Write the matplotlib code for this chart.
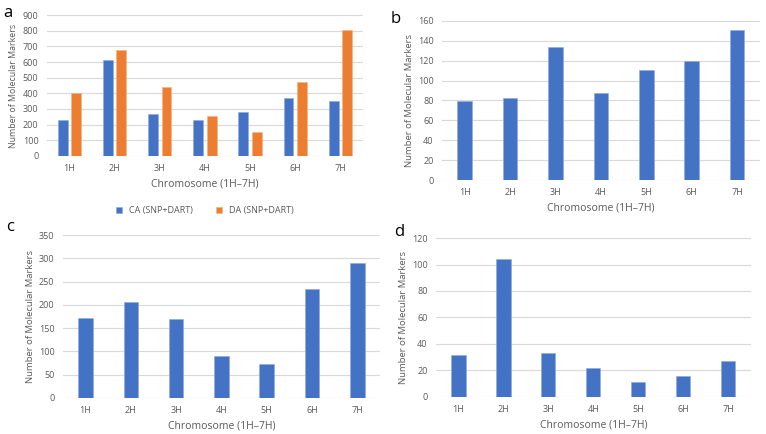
import numpy as np
import matplotlib.pyplot as plt

chromosomes = ['1H', '2H', '3H', '4H', '5H', '6H', '7H']
ca_snp_dart = [232, 615, 268, 228, 280, 372, 354]
da_snp_dart = [400, 676, 442, 258, 152, 472, 802]
panel_b = [79, 82, 134, 88, 111, 120, 151]
panel_c = [172, 207, 170, 91, 73, 233, 289]
panel_d = [32, 104, 33, 22, 11, 16, 27]

blue = '#4472C4'
orange = '#ED7D31'
grey = '#595959'
plt.rcParams['font.family'] = ['Open Sans', 'DejaVu Sans']

fig = plt.figure(figsize=(7.66, 4.34), dpi=100)


def style(ax, ymax, step, ylab_size=6.8):
    ax.set_ylim(0, ymax)
    ax.set_yticks(np.arange(0, ymax + 1, step))
    ax.set_xlim(-0.5, 6.5)
    ax.set_xticks(range(7))
    ax.set_xticklabels(chromosomes)
    for s in ax.spines.values():
        s.set_visible(False)
    ax.tick_params(length=0, labelsize=6.5, colors=grey, pad=6)
    ax.yaxis.grid(True, color='#D9D9D9', linewidth=0.8)
    ax.set_axisbelow(True)
    ax.set_ylabel('Number of Molecular Markers', fontsize=ylab_size, color=grey, labelpad=3)
    ax.set_xlabel('Chromosome (1H\u20137H)', fontsize=7.5, color=grey, labelpad=4)


x = np.arange(7)

# a
ax = fig.add_axes([0.061, 0.6406, 0.413, 0.3248])
ax.bar(x - 0.15, ca_snp_dart, 0.22, color=blue, edgecolor='#8FAADC', linewidth=0.4, label='CA (SNP+DART)')
ax.bar(x + 0.15, da_snp_dart, 0.22, color=orange, edgecolor='#F4B183', linewidth=0.4, label='DA (SNP+DART)')
style(ax, 900, 100, ylab_size=6.3)
ax.legend(loc='upper center', bbox_to_anchor=(0.5, -0.3), ncol=2, frameon=False,
          fontsize=6.5, labelcolor=grey, handlelength=0.7, handleheight=0.7, columnspacing=2.5)

# b
ax = fig.add_axes([0.577, 0.585, 0.415, 0.367])
ax.bar(x, panel_b, 0.32, color=blue, edgecolor='#8FAADC', linewidth=0.4)
style(ax, 160, 20)

# c
ax = fig.add_axes([0.082, 0.083, 0.414, 0.3755])
ax.bar(x, panel_c, 0.32, color=blue, edgecolor='#8FAADC', linewidth=0.4)
style(ax, 350, 50)

# d
ax = fig.add_axes([0.569, 0.0853, 0.411, 0.3663])
ax.bar(x, panel_d, 0.32, color=blue, edgecolor='#8FAADC', linewidth=0.4)
style(ax, 120, 20)

fig.text(0.004, 0.988, 'a', fontsize=12, va='top')
fig.text(0.510, 0.975, 'b', fontsize=12, va='top')
fig.text(0.008, 0.495, 'c', fontsize=12, va='top')
fig.text(0.515, 0.485, 'd', fontsize=12, va='top')

fig.savefig('out.png', dpi=100)
